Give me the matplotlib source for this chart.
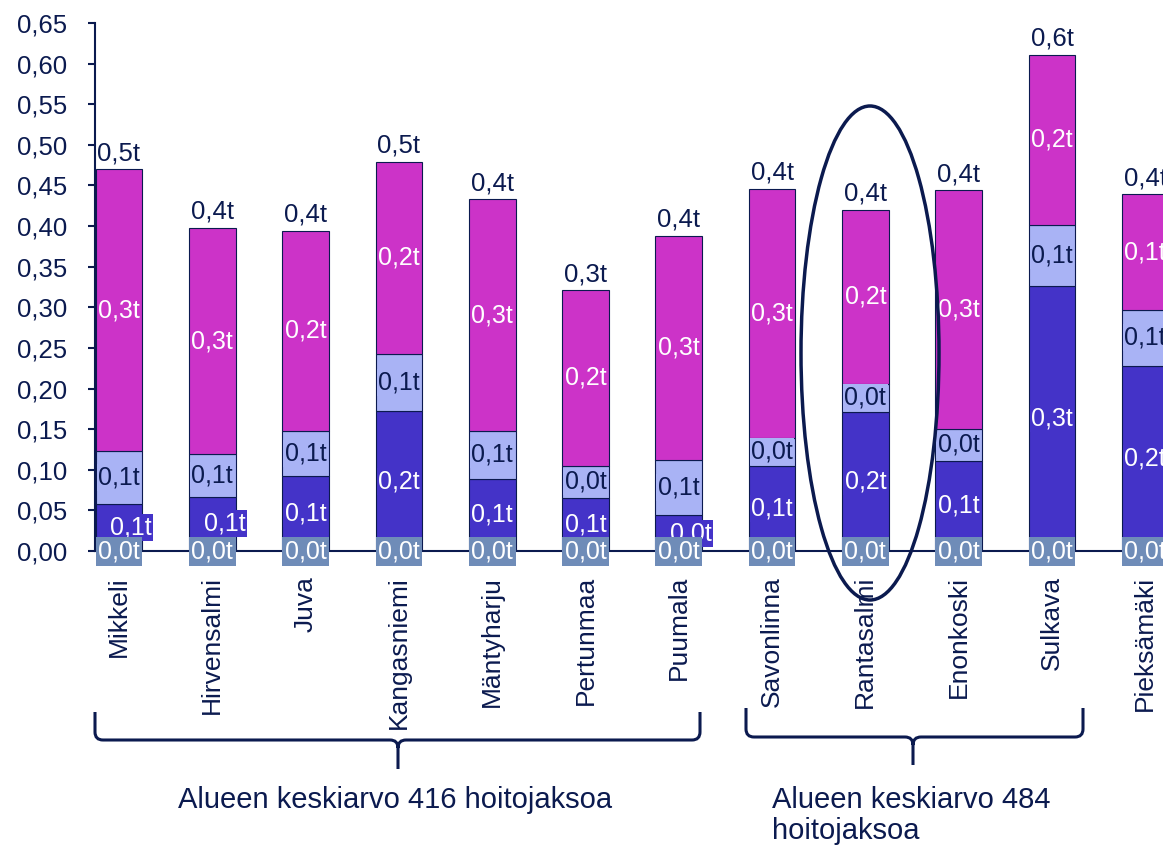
import matplotlib.pyplot as plt
import numpy as np
from matplotlib.path import Path
from matplotlib.patches import PathPatch, Ellipse
from matplotlib.ticker import FuncFormatter, MultipleLocator
from matplotlib.transforms import Affine2D

plt.rcParams['font.family'] = ['Liberation Sans', 'DejaVu Sans']

# data
kunnat = ["Mikkeli", "Hirvensalmi", "Juva", "Kangasniemi", "Mäntyharju", "Pertunmaa",
          "Puumala", "Savonlinna", "Rantasalmi", "Enonkoski", "Sulkava", "Pieksämäki"]
sarja_0 = [0.0] * 12
sarja_1 = [0.058, 0.067, 0.092, 0.172, 0.089, 0.065, 0.044, 0.105, 0.171, 0.111, 0.326, 0.228]
sarja_2 = [0.065, 0.052, 0.056, 0.071, 0.059, 0.040, 0.068, 0.034, 0.035, 0.039, 0.075, 0.069]
sarja_3 = [0.347, 0.279, 0.246, 0.236, 0.285, 0.216, 0.276, 0.307, 0.214, 0.294, 0.210, 0.142]
# labels that Excel pushed sideways
siirretyt = ["Mikkeli", "Hirvensalmi", "Puumala"]
ryhma_1 = "Alueen keskiarvo 416 hoitojaksoa"
ryhma_2 = "Alueen keskiarvo 484\nhoitojaksoa"

navy = "#0b1a4f"
c0 = "#6f8cb8"
c1 = "#4433c8"
c2 = "#a9b3f5"
c3 = "#cc33c8"

W, H = 1163, 849
fig = plt.figure(figsize=(W / 100, H / 100), dpi=100)
ax = fig.add_axes([95 / W, 1 - 551 / H, 1 - 95 / W, 528 / H])

def fmt(v):
  return f"{v:.1f}".replace(".", ",") + "t"

x = np.arange(len(kunnat))
w = 0.5
s1 = np.array(sarja_1)
s2 = np.array(sarja_2)
s3 = np.array(sarja_3)
total = s1 + s2 + s3

kw = dict(width=w, edgecolor=navy, linewidth=0.8, zorder=2)
ax.bar(x, s1, color=c1, **kw)
ax.bar(x, s2, bottom=s1, color=c2, **kw)
ax.bar(x, s3, bottom=s1 + s2, color=c3, **kw)

for i, k in enumerate(kunnat):
  # dark segment
  dx = 0.13 if k in siirretyt else 0
  ax.text(i + dx, s1[i] / 2, fmt(s1[i]), ha="center", va="center", fontsize=18,
          color="white", zorder=3,
          bbox=dict(boxstyle="square,pad=0.06", fc=c1, ec="none"))
  ax.text(i, s1[i] + s2[i] / 2, fmt(s2[i]), ha="center", va="center", fontsize=18,
          color=navy, zorder=3,
          bbox=dict(boxstyle="square,pad=0.06", fc=c2, ec="none"))
  ax.text(i, s1[i] + s2[i] + s3[i] / 2, fmt(s3[i]), ha="center", va="center", fontsize=18,
          color="white", zorder=3)
  ax.text(i, sarja_0[i], fmt(sarja_0[i]), ha="center", va="center", fontsize=18,
          color="white", zorder=4,
          bbox=dict(boxstyle="square,pad=0.1", fc=c0, ec="none"))
  ax.annotate(fmt(total[i]), (i, total[i]), xytext=(0, 3), textcoords="offset points",
              ha="center", va="bottom", fontsize=18.5, color=navy)

ax.set_xlim(-0.257, 11.19)
ax.set_ylim(0, 0.65)
ax.yaxis.set_major_locator(MultipleLocator(0.05))
ax.yaxis.set_major_formatter(FuncFormatter(lambda v, p: f"{v:.2f}".replace(".", ",")))
ax.set_xticks(x)
ax.set_xticklabels(kunnat, rotation=90, ha="center", va="top")
ax.tick_params(axis="y", length=5, width=1.5, color=navy, labelcolor=navy, labelsize=18.5, pad=15)
ax.tick_params(axis="x", length=0, labelcolor=navy, labelsize=19, pad=18)
for s in ["top", "right"]:
  ax.spines[s].set_visible(False)
for s in ["left", "bottom"]:
  ax.spines[s].set_color(navy)
  ax.spines[s].set_linewidth(1.5)

# pixel coords -> figure
px = Affine2D().scale(1 / W, -1 / H).translate(0, 1) + fig.transFigure

def brace(x0, x1, xm, ytop, ymid, ybot, r=8):
  verts = [(x0, ytop), (x0, ymid - r), (x0, ymid), (x0 + r, ymid),
           (xm - r, ymid), (xm, ymid), (xm, ymid + r), (xm, ybot),
           (xm, ymid + r), (xm, ymid), (xm + r, ymid),
           (x1 - r, ymid), (x1, ymid), (x1, ymid - r), (x1, ytop)]
  codes = [Path.MOVETO, Path.LINETO, Path.CURVE3, Path.CURVE3,
           Path.LINETO, Path.CURVE3, Path.CURVE3, Path.LINETO,
           Path.MOVETO, Path.CURVE3, Path.CURVE3,
           Path.LINETO, Path.CURVE3, Path.CURVE3, Path.LINETO]
  fig.add_artist(PathPatch(Path(verts, codes), transform=px, fill=False,
                           ec=navy, lw=2.2, capstyle="butt"))

brace(95, 700, 398, 712, 740, 769)
brace(746, 1083, 913, 708, 737, 765)

fig.add_artist(Ellipse((870, 353), 138, 494, transform=px, fill=False, ec=navy, lw=2.5, zorder=5))

fig.text(178 / W, 1 - 808 / H, ryhma_1, ha="left", va="baseline", fontsize=21, color=navy)
fig.text(772 / W, 1 - 786 / H, ryhma_2, ha="left", va="top", fontsize=21, color=navy,
         linespacing=1.15)

plt.savefig("out.png", dpi=100)
